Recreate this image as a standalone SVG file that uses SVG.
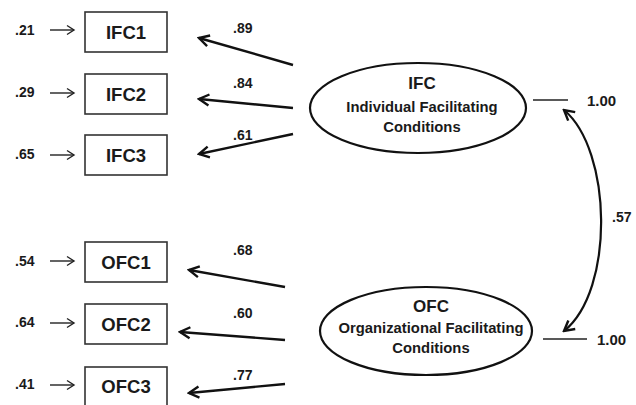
<svg xmlns="http://www.w3.org/2000/svg" width="636" height="405" viewBox="0 0 636 405">
  <style>
    text { font-family: "Liberation Sans", Arial, sans-serif; font-weight: bold; fill: #1a1a1a; }
    .box { fill: #fff; stroke: #333; stroke-width: 1.6; }
    .lat { fill: #fff; stroke: #111; stroke-width: 2.2; }
    .obs { font-size: 18.5px; text-anchor: middle; dominant-baseline: central; }
    .num { font-size: 14px; dominant-baseline: central; }
    .ttl { font-size: 17px; text-anchor: middle; dominant-baseline: central; }
    .sub { font-size: 14.8px; text-anchor: middle; dominant-baseline: central; }
    .load { stroke: #111; stroke-width: 2.4; fill: none; marker-end: url(#head); }
    .err { stroke: #222; stroke-width: 1.4; fill: none; marker-end: url(#small); }
    .var { stroke: #222; stroke-width: 1.4; fill: none; }
    .cov { stroke: #111; stroke-width: 2.2; fill: none; marker-start: url(#head); marker-end: url(#head); }
  </style>
  <defs>
    <marker id="head" viewBox="-12 -7 14 14" markerWidth="14" markerHeight="14" refX="0" refY="0" orient="auto-start-reverse" markerUnits="userSpaceOnUse">
      <path d="M-10,-5.5 L0,0 L-10,5.5" fill="none" stroke="#111" stroke-width="2.4"/>
    </marker>
    <marker id="small" viewBox="-10 -6 12 12" markerWidth="12" markerHeight="12" refX="0" refY="0" orient="auto" markerUnits="userSpaceOnUse">
      <path d="M-7,-4.5 L0,0 L-7,4.5" fill="none" stroke="#222" stroke-width="1.4"/>
    </marker>
  </defs>
  <rect width="636" height="405" fill="#fff"/>

  <!-- connectors: loadings, error terms, variances, covariance -->
  <g id="connectors">
    <path class="load" d="M293,65 L199,38"/>
    <path class="load" d="M293,108 L199,99"/>
    <path class="load" d="M293,134 L199,154"/>
    <path class="load" d="M285,287 L189,270"/>
    <path class="load" d="M285,340 L180,332"/>
    <path class="load" d="M285,384 L189,393"/>

    <path class="err" d="M50,30 L74,30"/>
    <path class="err" d="M50,93 L74,93"/>
    <path class="err" d="M50,155 L74,155"/>
    <path class="err" d="M50,261 L74,261"/>
    <path class="err" d="M50,323 L74,323"/>
    <path class="err" d="M50,385 L74,385"/>

    <path class="var" d="M533,100 L568,100"/>
    <path class="var" d="M543,339 L587,339"/>

    <path class="cov" d="M564,110 C612,150 615,290 564,331"/>
  </g>

  <!-- loading and variance values -->
  <g id="values">
    <text class="num" x="233" y="28">.89</text>
    <text class="num" x="233" y="83">.84</text>
    <text class="num" x="233" y="135">.61</text>
    <text class="num" x="233" y="250">.68</text>
    <text class="num" x="233" y="313">.60</text>
    <text class="num" x="233" y="375">.77</text>
    <text class="num" x="612" y="217">.57</text>
    <text class="num" x="587" y="100" style="font-size:15px">1.00</text>
    <text class="num" x="597" y="339" style="font-size:15px">1.00</text>
  </g>

  <!-- error variances -->
  <g id="errors">
    <text class="num" x="15" y="30">.21</text>
    <text class="num" x="15" y="92">.29</text>
    <text class="num" x="15" y="154">.65</text>
    <text class="num" x="15" y="261">.54</text>
    <text class="num" x="15" y="322">.64</text>
    <text class="num" x="15" y="384">.41</text>
  </g>

  <g id="IFC1"><rect class="box" x="85" y="12" width="82" height="40"/><text class="obs" x="126" y="32">IFC1</text></g>
  <g id="IFC2"><rect class="box" x="85" y="74" width="82" height="40"/><text class="obs" x="126" y="94">IFC2</text></g>
  <g id="IFC3"><rect class="box" x="85" y="135" width="82" height="40"/><text class="obs" x="126" y="155">IFC3</text></g>
  <g id="OFC1"><rect class="box" x="85" y="242" width="82" height="40"/><text class="obs" x="126" y="262">OFC1</text></g>
  <g id="OFC2"><rect class="box" x="85" y="304" width="82" height="40"/><text class="obs" x="126" y="324">OFC2</text></g>
  <g id="OFC3"><rect class="box" x="85" y="367" width="82" height="40"/><text class="obs" x="126" y="386">OFC3</text></g>

  <g id="IFC">
    <ellipse class="lat" cx="418" cy="108" rx="108" ry="45"/>
    <text class="ttl" x="422" y="83">IFC</text>
    <text class="sub" x="422" y="107">Individual Facilitating</text>
    <text class="sub" x="422" y="127">Conditions</text>
  </g>

  <g id="OFC">
    <ellipse class="lat" cx="426" cy="331" rx="106" ry="44"/>
    <text class="ttl" x="431" y="306">OFC</text>
    <text class="sub" x="431" y="328">Organizational Facilitating</text>
    <text class="sub" x="431" y="348">Conditions</text>
  </g>
</svg>
